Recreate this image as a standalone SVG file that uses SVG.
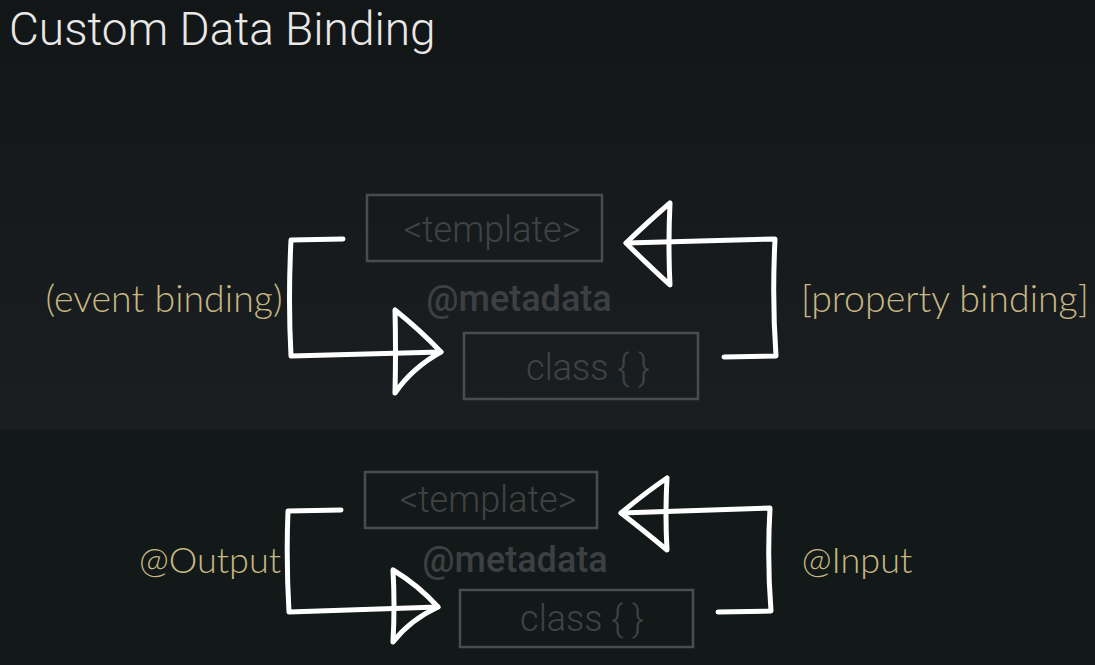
<svg xmlns="http://www.w3.org/2000/svg" width="1095" height="665" viewBox="0 0 1095 665">
<defs>
<linearGradient id="bgtop" x1="0" y1="0" x2="0" y2="1">
<stop offset="0" stop-color="#121616"/>
<stop offset="0.25" stop-color="#141819"/>
<stop offset="1" stop-color="#1b1e21"/>
</linearGradient>
<style>
.title{font-family:Roboto,"Liberation Sans",sans-serif;font-weight:300;font-size:46px;fill:#e8e8e8}
.box{fill:none;stroke:#4a4d4f;stroke-width:2.5}
.boxtxt{font-family:Roboto,"Liberation Sans",sans-serif;font-weight:300;font-size:36px;fill:#3f4345}
.meta{font-family:Roboto,"Liberation Sans",sans-serif;font-weight:500;font-size:36px;fill:#3c4042}
.lbl{font-family:Lato,Roboto,"Liberation Sans",sans-serif;font-weight:300;font-size:37.5px;fill:#c6b783}
.lbl2{font-size:36px}
.arr{fill:none;stroke:#ffffff;stroke-width:5;stroke-linecap:round;stroke-linejoin:round}
</style>
</defs>
<rect x="0" y="0" width="1095" height="429" fill="url(#bgtop)"/>
<rect x="0" y="429" width="1095" height="236" fill="#131918"/>
<text class="title" x="9" y="45">Custom Data Binding</text>

<g id="top-template"><rect class="box" x="367" y="195" width="235" height="66"/><text class="boxtxt" x="492" y="242" text-anchor="middle">&lt;template&gt;</text></g>
<g id="top-metadata"><text class="meta" x="519" y="311" text-anchor="middle">@metadata</text></g>
<g id="top-class"><rect class="box" x="464" y="333" width="234" height="66"/><text class="boxtxt" x="588" y="380" text-anchor="middle">class { }</text></g>
<g id="top-event"><text class="lbl" x="164" y="312" text-anchor="middle">(event binding)</text></g>
<g id="top-property"><text class="lbl" x="945" y="312" text-anchor="middle">[property binding]</text></g>

<g id="bottom-template"><rect class="box" x="365" y="472" width="232" height="56"/><text class="boxtxt" x="488" y="512" text-anchor="middle">&lt;template&gt;</text></g>
<g id="bottom-metadata"><text class="meta" x="515" y="572" text-anchor="middle">@metadata</text></g>
<g id="bottom-class"><rect class="box" x="460" y="590" width="233" height="57"/><text class="boxtxt" x="582" y="631" text-anchor="middle">class { }</text></g>
<g id="bottom-output"><text class="lbl lbl2" x="210" y="573" text-anchor="middle">@Output</text></g>
<g id="bottom-input"><text class="lbl lbl2" x="857" y="573" text-anchor="middle">@Input</text></g>

<g id="connectors">
<path class="arr" d="M343,239 L291,240 Q288,300 291,356 L441,352"/>
<path class="arr" d="M395,310 Q396,350 395,393 Q412,368 441,352 Q420,330 395,310 Z"/>
<path class="arr" d="M724,357 L776,356 Q772,300 775,239 L626,243"/>
<path class="arr" d="M670,203 Q668,245 670,285 Q645,262 626,243 Q650,220 670,203 Z"/>
<path class="arr" d="M341,510 L288,511 Q286,560 289,612 L438,607"/>
<path class="arr" d="M393,570 Q395,605 393,642 Q410,620 438,607 Q418,585 393,570 Z"/>
<path class="arr" d="M718,612 L771,611 Q767,560 770,508 L621,513"/>
<path class="arr" d="M667,478 Q665,515 667,550 Q643,530 621,513 Q645,493 667,478 Z"/>
</g>
</svg>
